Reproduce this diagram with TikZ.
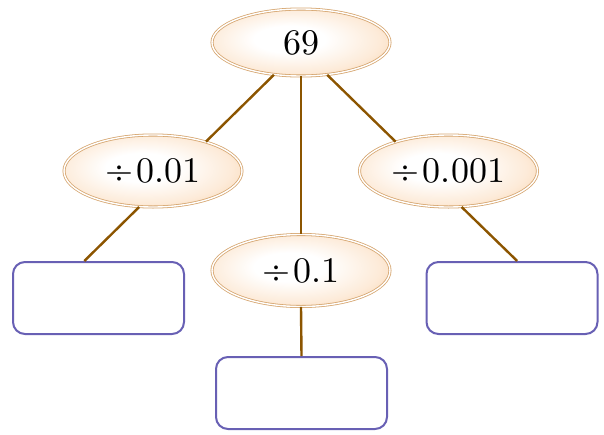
\documentclass[tikz,border=0pt]{standalone}
\usepackage{fontspec}
\usepackage{tikz}
\usetikzlibrary{shapes.geometric}
\newfontfamily\ovalfont{lmroman10-regular}[Extension=.otf]
\definecolor{tanline}{RGB}{214,166,112}
\definecolor{peach}{RGB}{250,210,170}
\definecolor{brownline}{RGB}{140,85,0}
\definecolor{boxblue}{RGB}{104,96,180}
\pgfdeclareradialshading{ovalshade}{\pgfpoint{-4bp}{3bp}}{color(0bp)=(white);
    color(10bp)=(white); color(24bp)=(peach!45); color(35bp)=(peach); color(50bp)=(peach)}

\begin{document}
\begin{tikzpicture}[x=1pt,y=-1pt,
    oval/.style={ellipse,draw=tanline,line width=0.8pt,double=white,double distance=1.4pt,
        shading=ovalshade,inner sep=0pt,
        minimum width=178pt,minimum height=72pt,font=\ovalfont\fontsize{36}{42}\selectfont},
    answer/.style={draw=boxblue,line width=2pt,rounded corners=12pt,fill=white,
        minimum width=171pt,minimum height=72pt},
    branch/.style={draw=brownline,line width=2.4pt}]
    \useasboundingbox (0,0) rectangle (604,434);
    \node[oval,minimum height=67pt] (num) at (301,42.5) {69};
    \node[oval] (hund) at (153,171) {÷\kern3pt0.01};
    \node[oval] (thou) at (448.5,171) {÷\kern3pt0.001};
    \node[oval] (tens) at (301,270.5) {÷\kern3pt0.1};
    \node[answer] (boxl) at (98.5,298) {};
    \node[answer] (boxr) at (512,298) {};
    \node[answer] (boxm) at (301.5,393) {};
    \draw[branch] (num.230.8)--(hund.29);
    \draw[branch] (num.309)--(thou.151.5);
    \draw[branch] (num.south)--(tens.north);
    \draw[branch] (hund.249.3)--(boxl.111.4);
    \draw[branch] (thou.290)--(boxr.82.3);
    \draw[branch] (tens.south)--(boxm.north);
\end{tikzpicture}
\end{document}
